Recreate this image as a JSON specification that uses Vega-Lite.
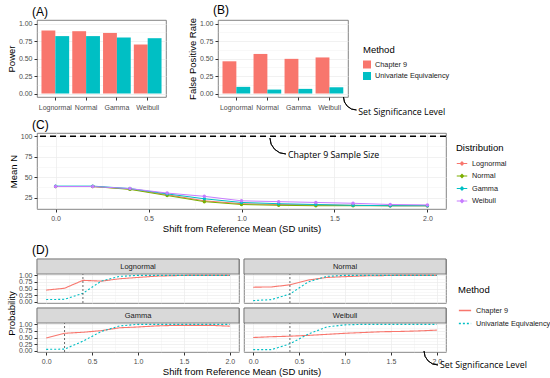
{
  "$schema": "https://vega.github.io/schema/vega-lite/v6.json",
  "padding": {"left": 5, "top": 3, "right": 2, "bottom": 2},
  "background": "white",
  "config": {
    "font": "Liberation Sans",
    "view": {"stroke": "#666666", "strokeWidth": 0.8},
    "axis": {"labelFontSize": 7, "labelColor": "#4D4D4D", "titleFontSize": 9.5, "titleFontWeight": "normal", "titleColor": "#000000", "tickColor": "#333333", "tickSize": 3, "domain": false, "gridColor": "#EBEBEB", "gridWidth": 0.7, "labelPadding": 2, "titlePadding": 2, "labelFlush": false, "labelOverlap": false, "labelBound": false},
    "legend": {"titleFontSize": 9.5, "titleFontWeight": "normal", "titleColor": "#000000", "labelFontSize": 7.3, "labelColor": "#1A1A1A", "orient": "none", "labelOffset": 4},
    "title": {"fontSize": 12, "fontWeight": "normal", "anchor": "start", "frame": "group", "offset": 1, "dx": -5, "color": "#000000"}
  },
  "datasets": {
    "bars": [
      {"Distribution": "Lognormal", "Method": "Chapter 9", "Power": 0.90, "FalsePositiveRate": 0.46},
      {"Distribution": "Lognormal", "Method": "Univariate Equivalency", "Power": 0.82, "FalsePositiveRate": 0.095},
      {"Distribution": "Normal", "Method": "Chapter 9", "Power": 0.89, "FalsePositiveRate": 0.565},
      {"Distribution": "Normal", "Method": "Univariate Equivalency", "Power": 0.82, "FalsePositiveRate": 0.056},
      {"Distribution": "Gamma", "Method": "Chapter 9", "Power": 0.865, "FalsePositiveRate": 0.495},
      {"Distribution": "Gamma", "Method": "Univariate Equivalency", "Power": 0.80, "FalsePositiveRate": 0.066},
      {"Distribution": "Weibull", "Method": "Chapter 9", "Power": 0.70, "FalsePositiveRate": 0.515},
      {"Distribution": "Weibull", "Method": "Univariate Equivalency", "Power": 0.79, "FalsePositiveRate": 0.089}
    ],
    "ref": [{"Reference": "Chapter 9 Sample Size", "MeanN": 100}],
    "note": [{"Note": "Set Significance Level"}],
    "meanN": [
      {"Distribution": "Lognormal", "Shift": 0, "MeanN": 38.5},
      {"Distribution": "Lognormal", "Shift": 0.2, "MeanN": 38.5},
      {"Distribution": "Lognormal", "Shift": 0.4, "MeanN": 35.5},
      {"Distribution": "Lognormal", "Shift": 0.6, "MeanN": 28.5},
      {"Distribution": "Lognormal", "Shift": 0.8, "MeanN": 21},
      {"Distribution": "Lognormal", "Shift": 1.0, "MeanN": 17.5},
      {"Distribution": "Lognormal", "Shift": 1.2, "MeanN": 16.5},
      {"Distribution": "Lognormal", "Shift": 1.4, "MeanN": 16},
      {"Distribution": "Lognormal", "Shift": 1.6, "MeanN": 15.5},
      {"Distribution": "Lognormal", "Shift": 1.8, "MeanN": 15},
      {"Distribution": "Lognormal", "Shift": 2.0, "MeanN": 15},
      {"Distribution": "Normal", "Shift": 0, "MeanN": 38.5},
      {"Distribution": "Normal", "Shift": 0.2, "MeanN": 38.5},
      {"Distribution": "Normal", "Shift": 0.4, "MeanN": 35},
      {"Distribution": "Normal", "Shift": 0.6, "MeanN": 27.5},
      {"Distribution": "Normal", "Shift": 0.8, "MeanN": 20},
      {"Distribution": "Normal", "Shift": 1.0, "MeanN": 16.5},
      {"Distribution": "Normal", "Shift": 1.2, "MeanN": 15.5},
      {"Distribution": "Normal", "Shift": 1.4, "MeanN": 15},
      {"Distribution": "Normal", "Shift": 1.6, "MeanN": 15},
      {"Distribution": "Normal", "Shift": 1.8, "MeanN": 15},
      {"Distribution": "Normal", "Shift": 2.0, "MeanN": 15},
      {"Distribution": "Gamma", "Shift": 0, "MeanN": 39},
      {"Distribution": "Gamma", "Shift": 0.2, "MeanN": 39},
      {"Distribution": "Gamma", "Shift": 0.4, "MeanN": 36},
      {"Distribution": "Gamma", "Shift": 0.6, "MeanN": 29.5},
      {"Distribution": "Gamma", "Shift": 0.8, "MeanN": 23.5},
      {"Distribution": "Gamma", "Shift": 1.0, "MeanN": 19},
      {"Distribution": "Gamma", "Shift": 1.2, "MeanN": 17.5},
      {"Distribution": "Gamma", "Shift": 1.4, "MeanN": 16.5},
      {"Distribution": "Gamma", "Shift": 1.6, "MeanN": 15.5},
      {"Distribution": "Gamma", "Shift": 1.8, "MeanN": 15},
      {"Distribution": "Gamma", "Shift": 2.0, "MeanN": 15},
      {"Distribution": "Weibull", "Shift": 0, "MeanN": 38.5},
      {"Distribution": "Weibull", "Shift": 0.2, "MeanN": 38.5},
      {"Distribution": "Weibull", "Shift": 0.4, "MeanN": 36},
      {"Distribution": "Weibull", "Shift": 0.6, "MeanN": 30.5},
      {"Distribution": "Weibull", "Shift": 0.8, "MeanN": 26.5},
      {"Distribution": "Weibull", "Shift": 1.0, "MeanN": 21},
      {"Distribution": "Weibull", "Shift": 1.2, "MeanN": 20},
      {"Distribution": "Weibull", "Shift": 1.4, "MeanN": 19},
      {"Distribution": "Weibull", "Shift": 1.6, "MeanN": 18},
      {"Distribution": "Weibull", "Shift": 1.8, "MeanN": 16.5},
      {"Distribution": "Weibull", "Shift": 2.0, "MeanN": 16}
    ],
    "sig": [
      {"Distribution": "Lognormal", "SigShift": 0.4},
      {"Distribution": "Normal", "SigShift": 0.4},
      {"Distribution": "Gamma", "SigShift": 0.2},
      {"Distribution": "Weibull", "SigShift": 0.4}
    ],
    "prob": [
      {"Distribution": "Lognormal", "Method": "Chapter 9", "Shift": 0, "Probability": 0.44},
      {"Distribution": "Lognormal", "Method": "Chapter 9", "Shift": 0.2, "Probability": 0.51},
      {"Distribution": "Lognormal", "Method": "Chapter 9", "Shift": 0.4, "Probability": 0.81},
      {"Distribution": "Lognormal", "Method": "Chapter 9", "Shift": 0.6, "Probability": 0.78},
      {"Distribution": "Lognormal", "Method": "Chapter 9", "Shift": 0.8, "Probability": 0.87},
      {"Distribution": "Lognormal", "Method": "Chapter 9", "Shift": 1.0, "Probability": 0.92},
      {"Distribution": "Lognormal", "Method": "Chapter 9", "Shift": 1.2, "Probability": 0.97},
      {"Distribution": "Lognormal", "Method": "Chapter 9", "Shift": 1.4, "Probability": 0.99},
      {"Distribution": "Lognormal", "Method": "Chapter 9", "Shift": 1.6, "Probability": 1.0},
      {"Distribution": "Lognormal", "Method": "Chapter 9", "Shift": 1.8, "Probability": 1.0},
      {"Distribution": "Lognormal", "Method": "Chapter 9", "Shift": 2.0, "Probability": 1.0},
      {"Distribution": "Lognormal", "Method": "Univariate Equivalency", "Shift": 0, "Probability": 0.08},
      {"Distribution": "Lognormal", "Method": "Univariate Equivalency", "Shift": 0.2, "Probability": 0.09},
      {"Distribution": "Lognormal", "Method": "Univariate Equivalency", "Shift": 0.4, "Probability": 0.32},
      {"Distribution": "Lognormal", "Method": "Univariate Equivalency", "Shift": 0.6, "Probability": 0.78},
      {"Distribution": "Lognormal", "Method": "Univariate Equivalency", "Shift": 0.8, "Probability": 0.96},
      {"Distribution": "Lognormal", "Method": "Univariate Equivalency", "Shift": 1.0, "Probability": 1.0},
      {"Distribution": "Lognormal", "Method": "Univariate Equivalency", "Shift": 1.2, "Probability": 1.0},
      {"Distribution": "Lognormal", "Method": "Univariate Equivalency", "Shift": 1.4, "Probability": 1.0},
      {"Distribution": "Lognormal", "Method": "Univariate Equivalency", "Shift": 1.6, "Probability": 1.0},
      {"Distribution": "Lognormal", "Method": "Univariate Equivalency", "Shift": 1.8, "Probability": 1.0},
      {"Distribution": "Lognormal", "Method": "Univariate Equivalency", "Shift": 2.0, "Probability": 1.0},
      {"Distribution": "Normal", "Method": "Chapter 9", "Shift": 0, "Probability": 0.55},
      {"Distribution": "Normal", "Method": "Chapter 9", "Shift": 0.2, "Probability": 0.56},
      {"Distribution": "Normal", "Method": "Chapter 9", "Shift": 0.4, "Probability": 0.64},
      {"Distribution": "Normal", "Method": "Chapter 9", "Shift": 0.6, "Probability": 0.82},
      {"Distribution": "Normal", "Method": "Chapter 9", "Shift": 0.8, "Probability": 0.92},
      {"Distribution": "Normal", "Method": "Chapter 9", "Shift": 1.0, "Probability": 0.95},
      {"Distribution": "Normal", "Method": "Chapter 9", "Shift": 1.2, "Probability": 0.98},
      {"Distribution": "Normal", "Method": "Chapter 9", "Shift": 1.4, "Probability": 0.99},
      {"Distribution": "Normal", "Method": "Chapter 9", "Shift": 1.6, "Probability": 1.0},
      {"Distribution": "Normal", "Method": "Chapter 9", "Shift": 1.8, "Probability": 1.0},
      {"Distribution": "Normal", "Method": "Chapter 9", "Shift": 2.0, "Probability": 1.0},
      {"Distribution": "Normal", "Method": "Univariate Equivalency", "Shift": 0, "Probability": 0.04},
      {"Distribution": "Normal", "Method": "Univariate Equivalency", "Shift": 0.2, "Probability": 0.08},
      {"Distribution": "Normal", "Method": "Univariate Equivalency", "Shift": 0.4, "Probability": 0.29},
      {"Distribution": "Normal", "Method": "Univariate Equivalency", "Shift": 0.6, "Probability": 0.75},
      {"Distribution": "Normal", "Method": "Univariate Equivalency", "Shift": 0.8, "Probability": 0.96},
      {"Distribution": "Normal", "Method": "Univariate Equivalency", "Shift": 1.0, "Probability": 1.0},
      {"Distribution": "Normal", "Method": "Univariate Equivalency", "Shift": 1.2, "Probability": 1.0},
      {"Distribution": "Normal", "Method": "Univariate Equivalency", "Shift": 1.4, "Probability": 1.0},
      {"Distribution": "Normal", "Method": "Univariate Equivalency", "Shift": 1.6, "Probability": 1.0},
      {"Distribution": "Normal", "Method": "Univariate Equivalency", "Shift": 1.8, "Probability": 1.0},
      {"Distribution": "Normal", "Method": "Univariate Equivalency", "Shift": 2.0, "Probability": 1.0},
      {"Distribution": "Gamma", "Method": "Chapter 9", "Shift": 0, "Probability": 0.48},
      {"Distribution": "Gamma", "Method": "Chapter 9", "Shift": 0.2, "Probability": 0.66},
      {"Distribution": "Gamma", "Method": "Chapter 9", "Shift": 0.4, "Probability": 0.70},
      {"Distribution": "Gamma", "Method": "Chapter 9", "Shift": 0.6, "Probability": 0.76},
      {"Distribution": "Gamma", "Method": "Chapter 9", "Shift": 0.8, "Probability": 0.87},
      {"Distribution": "Gamma", "Method": "Chapter 9", "Shift": 1.0, "Probability": 0.90},
      {"Distribution": "Gamma", "Method": "Chapter 9", "Shift": 1.2, "Probability": 0.94},
      {"Distribution": "Gamma", "Method": "Chapter 9", "Shift": 1.4, "Probability": 0.96},
      {"Distribution": "Gamma", "Method": "Chapter 9", "Shift": 1.6, "Probability": 0.96},
      {"Distribution": "Gamma", "Method": "Chapter 9", "Shift": 1.8, "Probability": 0.96},
      {"Distribution": "Gamma", "Method": "Chapter 9", "Shift": 2.0, "Probability": 0.93},
      {"Distribution": "Gamma", "Method": "Univariate Equivalency", "Shift": 0, "Probability": 0.05},
      {"Distribution": "Gamma", "Method": "Univariate Equivalency", "Shift": 0.2, "Probability": 0.06},
      {"Distribution": "Gamma", "Method": "Univariate Equivalency", "Shift": 0.4, "Probability": 0.36},
      {"Distribution": "Gamma", "Method": "Univariate Equivalency", "Shift": 0.6, "Probability": 0.73},
      {"Distribution": "Gamma", "Method": "Univariate Equivalency", "Shift": 0.8, "Probability": 0.94},
      {"Distribution": "Gamma", "Method": "Univariate Equivalency", "Shift": 1.0, "Probability": 1.0},
      {"Distribution": "Gamma", "Method": "Univariate Equivalency", "Shift": 1.2, "Probability": 1.0},
      {"Distribution": "Gamma", "Method": "Univariate Equivalency", "Shift": 1.4, "Probability": 1.0},
      {"Distribution": "Gamma", "Method": "Univariate Equivalency", "Shift": 1.6, "Probability": 1.0},
      {"Distribution": "Gamma", "Method": "Univariate Equivalency", "Shift": 1.8, "Probability": 1.0},
      {"Distribution": "Gamma", "Method": "Univariate Equivalency", "Shift": 2.0, "Probability": 1.0},
      {"Distribution": "Weibull", "Method": "Chapter 9", "Shift": 0, "Probability": 0.50},
      {"Distribution": "Weibull", "Method": "Chapter 9", "Shift": 0.2, "Probability": 0.53},
      {"Distribution": "Weibull", "Method": "Chapter 9", "Shift": 0.4, "Probability": 0.55},
      {"Distribution": "Weibull", "Method": "Chapter 9", "Shift": 0.6, "Probability": 0.58},
      {"Distribution": "Weibull", "Method": "Chapter 9", "Shift": 0.8, "Probability": 0.62},
      {"Distribution": "Weibull", "Method": "Chapter 9", "Shift": 1.0, "Probability": 0.66},
      {"Distribution": "Weibull", "Method": "Chapter 9", "Shift": 1.2, "Probability": 0.69},
      {"Distribution": "Weibull", "Method": "Chapter 9", "Shift": 1.4, "Probability": 0.72},
      {"Distribution": "Weibull", "Method": "Chapter 9", "Shift": 1.6, "Probability": 0.73},
      {"Distribution": "Weibull", "Method": "Chapter 9", "Shift": 1.8, "Probability": 0.75},
      {"Distribution": "Weibull", "Method": "Chapter 9", "Shift": 2.0, "Probability": 0.78},
      {"Distribution": "Weibull", "Method": "Univariate Equivalency", "Shift": 0, "Probability": 0.04},
      {"Distribution": "Weibull", "Method": "Univariate Equivalency", "Shift": 0.2, "Probability": 0.04},
      {"Distribution": "Weibull", "Method": "Univariate Equivalency", "Shift": 0.4, "Probability": 0.26},
      {"Distribution": "Weibull", "Method": "Univariate Equivalency", "Shift": 0.6, "Probability": 0.63},
      {"Distribution": "Weibull", "Method": "Univariate Equivalency", "Shift": 0.8, "Probability": 0.90},
      {"Distribution": "Weibull", "Method": "Univariate Equivalency", "Shift": 1.0, "Probability": 0.98},
      {"Distribution": "Weibull", "Method": "Univariate Equivalency", "Shift": 1.2, "Probability": 1.0},
      {"Distribution": "Weibull", "Method": "Univariate Equivalency", "Shift": 1.4, "Probability": 1.0},
      {"Distribution": "Weibull", "Method": "Univariate Equivalency", "Shift": 1.6, "Probability": 1.0},
      {"Distribution": "Weibull", "Method": "Univariate Equivalency", "Shift": 1.8, "Probability": 1.0},
      {"Distribution": "Weibull", "Method": "Univariate Equivalency", "Shift": 2.0, "Probability": 1.0}
    ]
  },
  "spacing": 11,
  "resolve": {"scale": {"color": "independent", "strokeDash": "independent"}},
  "vconcat": [
    {
      "spacing": 0,
      "resolve": {"scale": {"color": "independent"}},
      "vconcat": [
        {
          "spacing": 19,
          "resolve": {"scale": {"color": "independent", "y": "independent", "x": "independent"}},
          "hconcat": [
            {
              "title": "(A)",
              "width": 129,
              "height": 77,
              "data": {"name": "bars"},
              "mark": {"type": "bar"},
              "encoding": {
                "x": {"field": "Distribution", "type": "nominal", "scale": {"domain": ["Lognormal", "Normal", "Gamma", "Weibull"], "paddingInner": 0.1, "paddingOuter": 0.145}, "axis": {"title": null, "labelAngle": 0, "bandPosition": 0.5, "labelPadding": 3}},
                "xOffset": {"field": "Method", "type": "nominal", "scale": {"domain": ["Chapter 9", "Univariate Equivalency"]}},
                "y": {"field": "Power", "type": "quantitative", "scale": {"domain": [-0.05, 1.05], "nice": false, "zero": false},
                  "axis": {"title": "Power", "values": [0, 0.125, 0.25, 0.375, 0.5, 0.625, 0.75, 0.875, 1], "format": ".2f",
                    "labelExpr": "datum.value % 0.25 === 0 ? datum.label : ''",
                    "tickColor": {"condition": {"test": "datum.value % 0.25 === 0", "value": "#333333"}, "value": "transparent"},
                    "gridWidth": {"condition": {"test": "datum.value % 0.25 === 0", "value": 0.7}, "value": 0.35}}},
                "y2": {"datum": 0},
                "color": {"field": "Method", "type": "nominal", "scale": {"domain": ["Chapter 9", "Univariate Equivalency"], "range": ["#F8766D", "#00BFC4"]}, "legend": null}
              }
            },
            {
              "title": "(B)",
              "width": 130,
              "height": 77,
              "layer": [
                {
                  "data": {"name": "bars"},
                  "mark": {"type": "bar"},
                  "encoding": {
                    "x": {"field": "Distribution", "type": "nominal", "scale": {"domain": ["Lognormal", "Normal", "Gamma", "Weibull"], "paddingInner": 0.1, "paddingOuter": 0.145}, "axis": {"title": null, "labelAngle": 0, "bandPosition": 0.5, "labelPadding": 3}},
                    "xOffset": {"field": "Method", "type": "nominal", "scale": {"domain": ["Chapter 9", "Univariate Equivalency"]}},
                    "y": {"field": "FalsePositiveRate", "type": "quantitative", "scale": {"domain": [-0.05, 1.05], "nice": false, "zero": false},
                      "axis": {"title": "False Positive Rate", "values": [0, 0.125, 0.25, 0.375, 0.5, 0.625, 0.75, 0.875, 1], "format": ".2f",
                        "labelExpr": "datum.value % 0.25 === 0 ? datum.label : ''",
                        "tickColor": {"condition": {"test": "datum.value % 0.25 === 0", "value": "#333333"}, "value": "transparent"},
                        "gridWidth": {"condition": {"test": "datum.value % 0.25 === 0", "value": 0.7}, "value": 0.35}}},
                    "y2": {"datum": 0},
                    "color": {"field": "Method", "type": "nominal", "scale": {"domain": ["Chapter 9", "Univariate Equivalency"], "range": ["#F8766D", "#00BFC4"]},
                      "legend": {"title": "Method", "legendX": 145, "legendY": 25, "symbolType": "square", "symbolSize": 64, "rowPadding": 3.5, "titlePadding": 6, "symbolStrokeWidth": 0}}
                  }
                },
                {
                  "data": {"name": "note"},
                  "mark": {"type": "arc", "filled": false, "color": "#000000", "strokeWidth": 0.9, "radius": 13, "radius2": 13, "theta": 3.1416, "theta2": 4.7124},
                  "encoding": {
                    "x": {"datum": "Weibull", "bandPosition": 1.465, "scale": {"domain": ["Lognormal", "Normal", "Gamma", "Weibull"], "paddingInner": 0.1, "paddingOuter": 0.145}, "axis": {"title": null, "labelAngle": 0, "bandPosition": 0.5, "labelPadding": 3}},
                    "y": {"datum": -0.05, "type": "quantitative", "scale": {"domain": [-0.05, 1.05], "nice": false, "zero": false},
                      "axis": {"title": "False Positive Rate", "values": [0, 0.125, 0.25, 0.375, 0.5, 0.625, 0.75, 0.875, 1], "format": ".2f",
                        "labelExpr": "datum.value % 0.25 === 0 ? datum.label : ''",
                        "tickColor": {"condition": {"test": "datum.value % 0.25 === 0", "value": "#333333"}, "value": "transparent"},
                        "gridWidth": {"condition": {"test": "datum.value % 0.25 === 0", "value": 0.7}, "value": 0.35}}}
                  }
                },
                {
                  "data": {"name": "note"},
                  "mark": {"type": "text", "align": "left", "baseline": "middle", "font": "Open Sans", "fontSize": 8.8, "color": "#000000"},
                  "encoding": {
                    "x": {"datum": "Weibull", "bandPosition": 1.53, "scale": {"domain": ["Lognormal", "Normal", "Gamma", "Weibull"], "paddingInner": 0.1, "paddingOuter": 0.145}, "axis": {"title": null, "labelAngle": 0, "bandPosition": 0.5, "labelPadding": 3}},
                    "y": {"datum": -0.27, "type": "quantitative", "scale": {"domain": [-0.05, 1.05], "nice": false, "zero": false},
                      "axis": {"title": "False Positive Rate", "values": [0, 0.125, 0.25, 0.375, 0.5, 0.625, 0.75, 0.875, 1], "format": ".2f",
                        "labelExpr": "datum.value % 0.25 === 0 ? datum.label : ''",
                        "tickColor": {"condition": {"test": "datum.value % 0.25 === 0", "value": "#333333"}, "value": "transparent"},
                        "gridWidth": {"condition": {"test": "datum.value % 0.25 === 0", "value": 0.7}, "value": 0.35}}},
                    "text": {"field": "Note"}
                  }
                }
              ]
            }
          ]
        },
        {
          "title": {"text": "(C)", "offset": 0},
          "width": 409,
          "height": 76,
          "layer": [
            {
              "data": {"name": "meanN"},
              "mark": {"type": "line", "strokeWidth": 1, "point": {"filled": true, "size": 12}},
              "encoding": {
                "x": {"field": "Shift", "type": "quantitative", "scale": {"domain": [-0.1, 2.1], "nice": false},
                  "axis": {"title": "Shift from Reference Mean (SD units)", "values": [0, 0.25, 0.5, 0.75, 1, 1.25, 1.5, 1.75, 2], "format": ".1f",
                    "labelExpr": "datum.value % 0.5 === 0 ? datum.label : ''",
                    "tickColor": {"condition": {"test": "datum.value % 0.5 === 0", "value": "#333333"}, "value": "transparent"},
                    "gridWidth": {"condition": {"test": "datum.value % 0.5 === 0", "value": 0.7}, "value": 0.35}}},
                "y": {"field": "MeanN", "type": "quantitative", "scale": {"domain": [11, 104], "nice": false, "zero": false},
                  "axis": {"title": "Mean N", "values": [12.5, 25, 37.5, 50, 62.5, 75, 87.5, 100], "format": ".0f",
                    "labelExpr": "datum.value % 25 === 0 ? datum.label : ''",
                    "tickColor": {"condition": {"test": "datum.value % 25 === 0", "value": "#333333"}, "value": "transparent"},
                    "gridWidth": {"condition": {"test": "datum.value % 25 === 0", "value": 0.7}, "value": 0.35}}},
                "color": {"field": "Distribution", "type": "nominal", "scale": {"domain": ["Lognormal", "Normal", "Gamma", "Weibull"], "range": ["#F8766D", "#7CAE00", "#00BFC4", "#C77CFF"]},
                  "legend": {"title": "Distribution", "legendX": 419, "legendY": 10, "rowPadding": 2.5, "titlePadding": 5, "symbolType": "M-1,0L1,0M0,-0.3L0.3,0L0,0.3L-0.3,0Z", "symbolSize": 110, "symbolStrokeWidth": 1.2}}
              }
            },
            {
              "data": {"name": "ref"},
              "mark": {"type": "rule", "strokeDash": [6, 4], "strokeWidth": 1.5, "color": "#000000"},
              "encoding": {
                "y": {"field": "MeanN", "type": "quantitative", "scale": {"domain": [11, 104], "nice": false, "zero": false},
                  "axis": {"title": "Mean N", "values": [12.5, 25, 37.5, 50, 62.5, 75, 87.5, 100], "format": ".0f",
                    "labelExpr": "datum.value % 25 === 0 ? datum.label : ''",
                    "tickColor": {"condition": {"test": "datum.value % 25 === 0", "value": "#333333"}, "value": "transparent"},
                    "gridWidth": {"condition": {"test": "datum.value % 25 === 0", "value": 0.7}, "value": 0.35}}}
              }
            },
            {
              "data": {"name": "ref"},
              "mark": {"type": "arc", "filled": false, "color": "#000000", "strokeWidth": 0.9, "radius": 16, "radius2": 16, "theta": 3.1416, "theta2": 4.7124},
              "encoding": {
                "x": {"datum": 1.239, "type": "quantitative", "scale": {"domain": [-0.1, 2.1], "nice": false},
                  "axis": {"title": "Shift from Reference Mean (SD units)", "values": [0, 0.25, 0.5, 0.75, 1, 1.25, 1.5, 1.75, 2], "format": ".1f",
                    "labelExpr": "datum.value % 0.5 === 0 ? datum.label : ''",
                    "tickColor": {"condition": {"test": "datum.value % 0.5 === 0", "value": "#333333"}, "value": "transparent"},
                    "gridWidth": {"condition": {"test": "datum.value % 0.5 === 0", "value": 0.7}, "value": 0.35}}},
                "y": {"datum": 97.9, "type": "quantitative", "scale": {"domain": [11, 104], "nice": false, "zero": false},
                  "axis": {"title": "Mean N", "values": [12.5, 25, 37.5, 50, 62.5, 75, 87.5, 100], "format": ".0f",
                    "labelExpr": "datum.value % 25 === 0 ? datum.label : ''",
                    "tickColor": {"condition": {"test": "datum.value % 25 === 0", "value": "#333333"}, "value": "transparent"},
                    "gridWidth": {"condition": {"test": "datum.value % 25 === 0", "value": 0.7}, "value": 0.35}}}
              }
            },
            {
              "data": {"name": "ref"},
              "mark": {"type": "text", "align": "left", "baseline": "middle", "font": "Open Sans", "fontSize": 8.8, "color": "#000000"},
              "encoding": {
                "x": {"datum": 1.25, "type": "quantitative", "scale": {"domain": [-0.1, 2.1], "nice": false},
                  "axis": {"title": "Shift from Reference Mean (SD units)", "values": [0, 0.25, 0.5, 0.75, 1, 1.25, 1.5, 1.75, 2], "format": ".1f",
                    "labelExpr": "datum.value % 0.5 === 0 ? datum.label : ''",
                    "tickColor": {"condition": {"test": "datum.value % 0.5 === 0", "value": "#333333"}, "value": "transparent"},
                    "gridWidth": {"condition": {"test": "datum.value % 0.5 === 0", "value": 0.7}, "value": 0.35}}},
                "y": {"datum": 77, "type": "quantitative", "scale": {"domain": [11, 104], "nice": false, "zero": false},
                  "axis": {"title": "Mean N", "values": [12.5, 25, 37.5, 50, 62.5, 75, 87.5, 100], "format": ".0f",
                    "labelExpr": "datum.value % 25 === 0 ? datum.label : ''",
                    "tickColor": {"condition": {"test": "datum.value % 25 === 0", "value": "#333333"}, "value": "transparent"},
                    "gridWidth": {"condition": {"test": "datum.value % 25 === 0", "value": 0.7}, "value": 0.35}}},
                "text": {"field": "Reference"}
              }
            }
          ]
        }
      ]
    },
    {
      "title": "(D)",
      "columns": 2,
      "spacing": {"row": 5, "column": 5},
      "bounds": "flush",
      "concat": [
        {
          "width": 202, "height": 44,
          "layer": [
            {
              "data": {"name": "prob"},
              "transform": [{"filter": {"field": "Distribution", "equal": "Lognormal"}}],
              "mark": {"type": "line", "strokeWidth": 1.1},
              "encoding": {
                "x": {"field": "Shift", "type": "quantitative", "scale": {"domain": [-0.1, 2.1], "nice": false},
                  "axis": {"title": null, "labels": false, "ticks": false, "values": [0, 0.25, 0.5, 0.75, 1, 1.25, 1.5, 1.75, 2], "gridWidth": {"condition": {"test": "datum.value % 0.5 === 0", "value": 0.7}, "value": 0.35}}},
                "y": {"field": "Probability", "type": "quantitative", "scale": {"domain": [-0.05, 1.62], "nice": false, "zero": false},
                  "axis": {"title": "Probability", "titleY": 54, "values": [0, 0.125, 0.25, 0.375, 0.5, 0.625, 0.75, 0.875, 1], "format": ".2f", "labelExpr": "datum.value % 0.25 === 0 ? datum.label : ''", "tickColor": {"condition": {"test": "datum.value % 0.25 === 0", "value": "#333333"}, "value": "transparent"}, "gridWidth": {"condition": {"test": "datum.value % 0.25 === 0", "value": 0.7}, "value": 0.35}}},
                "color": {"field": "Method", "type": "nominal", "scale": {"domain": ["Chapter 9", "Univariate Equivalency"], "range": ["#F8766D", "#00BFC4"]},
                  "legend": {"title": "Method", "legendX": 421, "legendY": 26, "symbolType": "stroke", "symbolStrokeWidth": 1.3, "symbolSize": 150, "rowPadding": 2, "titlePadding": 9}},
                "strokeDash": {"field": "Method", "type": "nominal", "scale": {"domain": ["Chapter 9", "Univariate Equivalency"], "range": [[1, 0], [2, 2]]},
                  "legend": {"title": "Method", "legendX": 421, "legendY": 26, "symbolType": "stroke", "symbolStrokeWidth": 1.3, "symbolSize": 150, "rowPadding": 2, "titlePadding": 9}}
              }
            },
            {
              "data": {"name": "sig"},
              "transform": [{"filter": {"field": "Distribution", "equal": "Lognormal"}}],
              "mark": {"type": "rule", "strokeDash": [2, 2], "color": "#444444", "strokeWidth": 0.8},
              "encoding": {
                "x": {"field": "SigShift", "type": "quantitative", "scale": {"domain": [-0.1, 2.1], "nice": false},
                  "axis": {"title": null, "labels": false, "ticks": false, "values": [0, 0.25, 0.5, 0.75, 1, 1.25, 1.5, 1.75, 2], "gridWidth": {"condition": {"test": "datum.value % 0.5 === 0", "value": 0.7}, "value": 0.35}}},
                "y": {"datum": -0.05, "type": "quantitative", "scale": {"domain": [-0.05, 1.62], "nice": false, "zero": false},
                  "axis": {"title": "Probability", "titleY": 54, "values": [0, 0.125, 0.25, 0.375, 0.5, 0.625, 0.75, 0.875, 1], "format": ".2f", "labelExpr": "datum.value % 0.25 === 0 ? datum.label : ''", "tickColor": {"condition": {"test": "datum.value % 0.25 === 0", "value": "#333333"}, "value": "transparent"}, "gridWidth": {"condition": {"test": "datum.value % 0.25 === 0", "value": 0.7}, "value": 0.35}}},
                "y2": {"datum": 1.05}
              }
            },
            {
              "data": {"name": "sig"},
              "transform": [{"filter": {"field": "Distribution", "equal": "Lognormal"}}],
              "mark": {"type": "rect", "fill": "#D9D9D9", "stroke": "#666666", "strokeWidth": 0.8},
              "encoding": {
                "x": {"datum": -0.1, "type": "quantitative", "scale": {"domain": [-0.1, 2.1], "nice": false},
                  "axis": {"title": null, "labels": false, "ticks": false, "values": [0, 0.25, 0.5, 0.75, 1, 1.25, 1.5, 1.75, 2], "gridWidth": {"condition": {"test": "datum.value % 0.5 === 0", "value": 0.7}, "value": 0.35}}},
                "x2": {"datum": 2.1},
                "y": {"datum": 1.05, "type": "quantitative", "scale": {"domain": [-0.05, 1.62], "nice": false, "zero": false},
                  "axis": {"title": "Probability", "titleY": 54, "values": [0, 0.125, 0.25, 0.375, 0.5, 0.625, 0.75, 0.875, 1], "format": ".2f", "labelExpr": "datum.value % 0.25 === 0 ? datum.label : ''", "tickColor": {"condition": {"test": "datum.value % 0.25 === 0", "value": "#333333"}, "value": "transparent"}, "gridWidth": {"condition": {"test": "datum.value % 0.25 === 0", "value": 0.7}, "value": 0.35}}},
                "y2": {"datum": 1.62}
              }
            },
            {
              "data": {"name": "sig"},
              "transform": [{"filter": {"field": "Distribution", "equal": "Lognormal"}}],
              "mark": {"type": "text", "fontSize": 7.5, "color": "#1A1A1A", "baseline": "middle"},
              "encoding": {
                "x": {"datum": 1.0, "type": "quantitative", "scale": {"domain": [-0.1, 2.1], "nice": false},
                  "axis": {"title": null, "labels": false, "ticks": false, "values": [0, 0.25, 0.5, 0.75, 1, 1.25, 1.5, 1.75, 2], "gridWidth": {"condition": {"test": "datum.value % 0.5 === 0", "value": 0.7}, "value": 0.35}}},
                "y": {"datum": 1.335, "type": "quantitative", "scale": {"domain": [-0.05, 1.62], "nice": false, "zero": false},
                  "axis": {"title": "Probability", "titleY": 54, "values": [0, 0.125, 0.25, 0.375, 0.5, 0.625, 0.75, 0.875, 1], "format": ".2f", "labelExpr": "datum.value % 0.25 === 0 ? datum.label : ''", "tickColor": {"condition": {"test": "datum.value % 0.25 === 0", "value": "#333333"}, "value": "transparent"}, "gridWidth": {"condition": {"test": "datum.value % 0.25 === 0", "value": 0.7}, "value": 0.35}}},
                "text": {"field": "Distribution"}
              }
            }
          ]
        },
        {
          "width": 202, "height": 44,
          "layer": [
            {
              "data": {"name": "prob"},
              "transform": [{"filter": {"field": "Distribution", "equal": "Normal"}}],
              "mark": {"type": "line", "strokeWidth": 1.1},
              "encoding": {
                "x": {"field": "Shift", "type": "quantitative", "scale": {"domain": [-0.1, 2.1], "nice": false},
                  "axis": {"title": null, "labels": false, "ticks": false, "values": [0, 0.25, 0.5, 0.75, 1, 1.25, 1.5, 1.75, 2], "gridWidth": {"condition": {"test": "datum.value % 0.5 === 0", "value": 0.7}, "value": 0.35}}},
                "y": {"field": "Probability", "type": "quantitative", "scale": {"domain": [-0.05, 1.62], "nice": false, "zero": false},
                  "axis": {"title": null, "labels": false, "ticks": false, "values": [0, 0.125, 0.25, 0.375, 0.5, 0.625, 0.75, 0.875, 1], "gridWidth": {"condition": {"test": "datum.value % 0.25 === 0", "value": 0.7}, "value": 0.35}}},
                "color": {"field": "Method", "type": "nominal", "scale": {"domain": ["Chapter 9", "Univariate Equivalency"], "range": ["#F8766D", "#00BFC4"]},
                  "legend": {"title": "Method", "legendX": 421, "legendY": 26, "symbolType": "stroke", "symbolStrokeWidth": 1.3, "symbolSize": 150, "rowPadding": 2, "titlePadding": 9}},
                "strokeDash": {"field": "Method", "type": "nominal", "scale": {"domain": ["Chapter 9", "Univariate Equivalency"], "range": [[1, 0], [2, 2]]},
                  "legend": {"title": "Method", "legendX": 421, "legendY": 26, "symbolType": "stroke", "symbolStrokeWidth": 1.3, "symbolSize": 150, "rowPadding": 2, "titlePadding": 9}}
              }
            },
            {
              "data": {"name": "sig"},
              "transform": [{"filter": {"field": "Distribution", "equal": "Normal"}}],
              "mark": {"type": "rule", "strokeDash": [2, 2], "color": "#444444", "strokeWidth": 0.8},
              "encoding": {
                "x": {"field": "SigShift", "type": "quantitative", "scale": {"domain": [-0.1, 2.1], "nice": false},
                  "axis": {"title": null, "labels": false, "ticks": false, "values": [0, 0.25, 0.5, 0.75, 1, 1.25, 1.5, 1.75, 2], "gridWidth": {"condition": {"test": "datum.value % 0.5 === 0", "value": 0.7}, "value": 0.35}}},
                "y": {"datum": -0.05, "type": "quantitative", "scale": {"domain": [-0.05, 1.62], "nice": false, "zero": false},
                  "axis": {"title": null, "labels": false, "ticks": false, "values": [0, 0.125, 0.25, 0.375, 0.5, 0.625, 0.75, 0.875, 1], "gridWidth": {"condition": {"test": "datum.value % 0.25 === 0", "value": 0.7}, "value": 0.35}}},
                "y2": {"datum": 1.05}
              }
            },
            {
              "data": {"name": "sig"},
              "transform": [{"filter": {"field": "Distribution", "equal": "Normal"}}],
              "mark": {"type": "rect", "fill": "#D9D9D9", "stroke": "#666666", "strokeWidth": 0.8},
              "encoding": {
                "x": {"datum": -0.1, "type": "quantitative", "scale": {"domain": [-0.1, 2.1], "nice": false},
                  "axis": {"title": null, "labels": false, "ticks": false, "values": [0, 0.25, 0.5, 0.75, 1, 1.25, 1.5, 1.75, 2], "gridWidth": {"condition": {"test": "datum.value % 0.5 === 0", "value": 0.7}, "value": 0.35}}},
                "x2": {"datum": 2.1},
                "y": {"datum": 1.05, "type": "quantitative", "scale": {"domain": [-0.05, 1.62], "nice": false, "zero": false},
                  "axis": {"title": null, "labels": false, "ticks": false, "values": [0, 0.125, 0.25, 0.375, 0.5, 0.625, 0.75, 0.875, 1], "gridWidth": {"condition": {"test": "datum.value % 0.25 === 0", "value": 0.7}, "value": 0.35}}},
                "y2": {"datum": 1.62}
              }
            },
            {
              "data": {"name": "sig"},
              "transform": [{"filter": {"field": "Distribution", "equal": "Normal"}}],
              "mark": {"type": "text", "fontSize": 7.5, "color": "#1A1A1A", "baseline": "middle"},
              "encoding": {
                "x": {"datum": 1.0, "type": "quantitative", "scale": {"domain": [-0.1, 2.1], "nice": false},
                  "axis": {"title": null, "labels": false, "ticks": false, "values": [0, 0.25, 0.5, 0.75, 1, 1.25, 1.5, 1.75, 2], "gridWidth": {"condition": {"test": "datum.value % 0.5 === 0", "value": 0.7}, "value": 0.35}}},
                "y": {"datum": 1.335, "type": "quantitative", "scale": {"domain": [-0.05, 1.62], "nice": false, "zero": false},
                  "axis": {"title": null, "labels": false, "ticks": false, "values": [0, 0.125, 0.25, 0.375, 0.5, 0.625, 0.75, 0.875, 1], "gridWidth": {"condition": {"test": "datum.value % 0.25 === 0", "value": 0.7}, "value": 0.35}}},
                "text": {"field": "Distribution"}
              }
            }
          ]
        },
        {
          "width": 202, "height": 44,
          "layer": [
            {
              "data": {"name": "prob"},
              "transform": [{"filter": {"field": "Distribution", "equal": "Gamma"}}],
              "mark": {"type": "line", "strokeWidth": 1.1},
              "encoding": {
                "x": {"field": "Shift", "type": "quantitative", "scale": {"domain": [-0.1, 2.1], "nice": false},
                  "axis": {"title": "Shift from Reference Mean (SD units)", "titleX": 204.5, "values": [0, 0.25, 0.5, 0.75, 1, 1.25, 1.5, 1.75, 2], "format": ".1f", "labelExpr": "datum.value % 0.5 === 0 ? datum.label : ''", "tickColor": {"condition": {"test": "datum.value % 0.5 === 0", "value": "#333333"}, "value": "transparent"}, "gridWidth": {"condition": {"test": "datum.value % 0.5 === 0", "value": 0.7}, "value": 0.35}}},
                "y": {"field": "Probability", "type": "quantitative", "scale": {"domain": [-0.05, 1.62], "nice": false, "zero": false},
                  "axis": {"title": null, "values": [0, 0.125, 0.25, 0.375, 0.5, 0.625, 0.75, 0.875, 1], "format": ".2f", "labelExpr": "datum.value % 0.25 === 0 ? datum.label : ''", "tickColor": {"condition": {"test": "datum.value % 0.25 === 0", "value": "#333333"}, "value": "transparent"}, "gridWidth": {"condition": {"test": "datum.value % 0.25 === 0", "value": 0.7}, "value": 0.35}}},
                "color": {"field": "Method", "type": "nominal", "scale": {"domain": ["Chapter 9", "Univariate Equivalency"], "range": ["#F8766D", "#00BFC4"]},
                  "legend": {"title": "Method", "legendX": 421, "legendY": 26, "symbolType": "stroke", "symbolStrokeWidth": 1.3, "symbolSize": 150, "rowPadding": 2, "titlePadding": 9}},
                "strokeDash": {"field": "Method", "type": "nominal", "scale": {"domain": ["Chapter 9", "Univariate Equivalency"], "range": [[1, 0], [2, 2]]},
                  "legend": {"title": "Method", "legendX": 421, "legendY": 26, "symbolType": "stroke", "symbolStrokeWidth": 1.3, "symbolSize": 150, "rowPadding": 2, "titlePadding": 9}}
              }
            },
            {
              "data": {"name": "sig"},
              "transform": [{"filter": {"field": "Distribution", "equal": "Gamma"}}],
              "mark": {"type": "rule", "strokeDash": [2, 2], "color": "#444444", "strokeWidth": 0.8},
              "encoding": {
                "x": {"field": "SigShift", "type": "quantitative", "scale": {"domain": [-0.1, 2.1], "nice": false},
                  "axis": {"title": "Shift from Reference Mean (SD units)", "titleX": 204.5, "values": [0, 0.25, 0.5, 0.75, 1, 1.25, 1.5, 1.75, 2], "format": ".1f", "labelExpr": "datum.value % 0.5 === 0 ? datum.label : ''", "tickColor": {"condition": {"test": "datum.value % 0.5 === 0", "value": "#333333"}, "value": "transparent"}, "gridWidth": {"condition": {"test": "datum.value % 0.5 === 0", "value": 0.7}, "value": 0.35}}},
                "y": {"datum": -0.05, "type": "quantitative", "scale": {"domain": [-0.05, 1.62], "nice": false, "zero": false},
                  "axis": {"title": null, "values": [0, 0.125, 0.25, 0.375, 0.5, 0.625, 0.75, 0.875, 1], "format": ".2f", "labelExpr": "datum.value % 0.25 === 0 ? datum.label : ''", "tickColor": {"condition": {"test": "datum.value % 0.25 === 0", "value": "#333333"}, "value": "transparent"}, "gridWidth": {"condition": {"test": "datum.value % 0.25 === 0", "value": 0.7}, "value": 0.35}}},
                "y2": {"datum": 1.05}
              }
            },
            {
              "data": {"name": "sig"},
              "transform": [{"filter": {"field": "Distribution", "equal": "Gamma"}}],
              "mark": {"type": "rect", "fill": "#D9D9D9", "stroke": "#666666", "strokeWidth": 0.8},
              "encoding": {
                "x": {"datum": -0.1, "type": "quantitative", "scale": {"domain": [-0.1, 2.1], "nice": false},
                  "axis": {"title": "Shift from Reference Mean (SD units)", "titleX": 204.5, "values": [0, 0.25, 0.5, 0.75, 1, 1.25, 1.5, 1.75, 2], "format": ".1f", "labelExpr": "datum.value % 0.5 === 0 ? datum.label : ''", "tickColor": {"condition": {"test": "datum.value % 0.5 === 0", "value": "#333333"}, "value": "transparent"}, "gridWidth": {"condition": {"test": "datum.value % 0.5 === 0", "value": 0.7}, "value": 0.35}}},
                "x2": {"datum": 2.1},
                "y": {"datum": 1.05, "type": "quantitative", "scale": {"domain": [-0.05, 1.62], "nice": false, "zero": false},
                  "axis": {"title": null, "values": [0, 0.125, 0.25, 0.375, 0.5, 0.625, 0.75, 0.875, 1], "format": ".2f", "labelExpr": "datum.value % 0.25 === 0 ? datum.label : ''", "tickColor": {"condition": {"test": "datum.value % 0.25 === 0", "value": "#333333"}, "value": "transparent"}, "gridWidth": {"condition": {"test": "datum.value % 0.25 === 0", "value": 0.7}, "value": 0.35}}},
                "y2": {"datum": 1.62}
              }
            },
            {
              "data": {"name": "sig"},
              "transform": [{"filter": {"field": "Distribution", "equal": "Gamma"}}],
              "mark": {"type": "text", "fontSize": 7.5, "color": "#1A1A1A", "baseline": "middle"},
              "encoding": {
                "x": {"datum": 1.0, "type": "quantitative", "scale": {"domain": [-0.1, 2.1], "nice": false},
                  "axis": {"title": "Shift from Reference Mean (SD units)", "titleX": 204.5, "values": [0, 0.25, 0.5, 0.75, 1, 1.25, 1.5, 1.75, 2], "format": ".1f", "labelExpr": "datum.value % 0.5 === 0 ? datum.label : ''", "tickColor": {"condition": {"test": "datum.value % 0.5 === 0", "value": "#333333"}, "value": "transparent"}, "gridWidth": {"condition": {"test": "datum.value % 0.5 === 0", "value": 0.7}, "value": 0.35}}},
                "y": {"datum": 1.335, "type": "quantitative", "scale": {"domain": [-0.05, 1.62], "nice": false, "zero": false},
                  "axis": {"title": null, "values": [0, 0.125, 0.25, 0.375, 0.5, 0.625, 0.75, 0.875, 1], "format": ".2f", "labelExpr": "datum.value % 0.25 === 0 ? datum.label : ''", "tickColor": {"condition": {"test": "datum.value % 0.25 === 0", "value": "#333333"}, "value": "transparent"}, "gridWidth": {"condition": {"test": "datum.value % 0.25 === 0", "value": 0.7}, "value": 0.35}}},
                "text": {"field": "Distribution"}
              }
            }
          ]
        },
        {
          "width": 202, "height": 44,
          "layer": [
            {
              "data": {"name": "prob"},
              "transform": [{"filter": {"field": "Distribution", "equal": "Weibull"}}],
              "mark": {"type": "line", "strokeWidth": 1.1},
              "encoding": {
                "x": {"field": "Shift", "type": "quantitative", "scale": {"domain": [-0.1, 2.1], "nice": false},
                  "axis": {"title": null, "values": [0, 0.25, 0.5, 0.75, 1, 1.25, 1.5, 1.75, 2], "format": ".1f", "labelExpr": "datum.value % 0.5 === 0 ? datum.label : ''", "tickColor": {"condition": {"test": "datum.value % 0.5 === 0", "value": "#333333"}, "value": "transparent"}, "gridWidth": {"condition": {"test": "datum.value % 0.5 === 0", "value": 0.7}, "value": 0.35}}},
                "y": {"field": "Probability", "type": "quantitative", "scale": {"domain": [-0.05, 1.62], "nice": false, "zero": false},
                  "axis": {"title": null, "labels": false, "ticks": false, "values": [0, 0.125, 0.25, 0.375, 0.5, 0.625, 0.75, 0.875, 1], "gridWidth": {"condition": {"test": "datum.value % 0.25 === 0", "value": 0.7}, "value": 0.35}}},
                "color": {"field": "Method", "type": "nominal", "scale": {"domain": ["Chapter 9", "Univariate Equivalency"], "range": ["#F8766D", "#00BFC4"]},
                  "legend": {"title": "Method", "legendX": 421, "legendY": 26, "symbolType": "stroke", "symbolStrokeWidth": 1.3, "symbolSize": 150, "rowPadding": 2, "titlePadding": 9}},
                "strokeDash": {"field": "Method", "type": "nominal", "scale": {"domain": ["Chapter 9", "Univariate Equivalency"], "range": [[1, 0], [2, 2]]},
                  "legend": {"title": "Method", "legendX": 421, "legendY": 26, "symbolType": "stroke", "symbolStrokeWidth": 1.3, "symbolSize": 150, "rowPadding": 2, "titlePadding": 9}}
              }
            },
            {
              "data": {"name": "sig"},
              "transform": [{"filter": {"field": "Distribution", "equal": "Weibull"}}],
              "mark": {"type": "rule", "strokeDash": [2, 2], "color": "#444444", "strokeWidth": 0.8},
              "encoding": {
                "x": {"field": "SigShift", "type": "quantitative", "scale": {"domain": [-0.1, 2.1], "nice": false},
                  "axis": {"title": null, "values": [0, 0.25, 0.5, 0.75, 1, 1.25, 1.5, 1.75, 2], "format": ".1f", "labelExpr": "datum.value % 0.5 === 0 ? datum.label : ''", "tickColor": {"condition": {"test": "datum.value % 0.5 === 0", "value": "#333333"}, "value": "transparent"}, "gridWidth": {"condition": {"test": "datum.value % 0.5 === 0", "value": 0.7}, "value": 0.35}}},
                "y": {"datum": -0.05, "type": "quantitative", "scale": {"domain": [-0.05, 1.62], "nice": false, "zero": false},
                  "axis": {"title": null, "labels": false, "ticks": false, "values": [0, 0.125, 0.25, 0.375, 0.5, 0.625, 0.75, 0.875, 1], "gridWidth": {"condition": {"test": "datum.value % 0.25 === 0", "value": 0.7}, "value": 0.35}}},
                "y2": {"datum": 1.05}
              }
            },
            {
              "data": {"name": "sig"},
              "transform": [{"filter": {"field": "Distribution", "equal": "Weibull"}}],
              "mark": {"type": "rect", "fill": "#D9D9D9", "stroke": "#666666", "strokeWidth": 0.8},
              "encoding": {
                "x": {"datum": -0.1, "type": "quantitative", "scale": {"domain": [-0.1, 2.1], "nice": false},
                  "axis": {"title": null, "values": [0, 0.25, 0.5, 0.75, 1, 1.25, 1.5, 1.75, 2], "format": ".1f", "labelExpr": "datum.value % 0.5 === 0 ? datum.label : ''", "tickColor": {"condition": {"test": "datum.value % 0.5 === 0", "value": "#333333"}, "value": "transparent"}, "gridWidth": {"condition": {"test": "datum.value % 0.5 === 0", "value": 0.7}, "value": 0.35}}},
                "x2": {"datum": 2.1},
                "y": {"datum": 1.05, "type": "quantitative", "scale": {"domain": [-0.05, 1.62], "nice": false, "zero": false},
                  "axis": {"title": null, "labels": false, "ticks": false, "values": [0, 0.125, 0.25, 0.375, 0.5, 0.625, 0.75, 0.875, 1], "gridWidth": {"condition": {"test": "datum.value % 0.25 === 0", "value": 0.7}, "value": 0.35}}},
                "y2": {"datum": 1.62}
              }
            },
            {
              "data": {"name": "sig"},
              "transform": [{"filter": {"field": "Distribution", "equal": "Weibull"}}],
              "mark": {"type": "text", "fontSize": 7.5, "color": "#1A1A1A", "baseline": "middle"},
              "encoding": {
                "x": {"datum": 1.0, "type": "quantitative", "scale": {"domain": [-0.1, 2.1], "nice": false},
                  "axis": {"title": null, "values": [0, 0.25, 0.5, 0.75, 1, 1.25, 1.5, 1.75, 2], "format": ".1f", "labelExpr": "datum.value % 0.5 === 0 ? datum.label : ''", "tickColor": {"condition": {"test": "datum.value % 0.5 === 0", "value": "#333333"}, "value": "transparent"}, "gridWidth": {"condition": {"test": "datum.value % 0.5 === 0", "value": 0.7}, "value": 0.35}}},
                "y": {"datum": 1.335, "type": "quantitative", "scale": {"domain": [-0.05, 1.62], "nice": false, "zero": false},
                  "axis": {"title": null, "labels": false, "ticks": false, "values": [0, 0.125, 0.25, 0.375, 0.5, 0.625, 0.75, 0.875, 1], "gridWidth": {"condition": {"test": "datum.value % 0.25 === 0", "value": 0.7}, "value": 0.35}}},
                "text": {"field": "Distribution"}
              }
            },
            {
              "data": {"name": "note"},
              "mark": {"type": "arc", "filled": false, "color": "#000000", "strokeWidth": 0.9, "radius": 14, "radius2": 14, "theta": 3.1416, "theta2": 4.7124},
              "encoding": {
                "x": {"datum": 2.013, "type": "quantitative", "scale": {"domain": [-0.1, 2.1], "nice": false},
                  "axis": {"title": null, "values": [0, 0.25, 0.5, 0.75, 1, 1.25, 1.5, 1.75, 2], "format": ".1f", "labelExpr": "datum.value % 0.5 === 0 ? datum.label : ''", "tickColor": {"condition": {"test": "datum.value % 0.5 === 0", "value": "#333333"}, "value": "transparent"}, "gridWidth": {"condition": {"test": "datum.value % 0.5 === 0", "value": 0.7}, "value": 0.35}}},
                "y": {"datum": -0.012, "type": "quantitative", "scale": {"domain": [-0.05, 1.62], "nice": false, "zero": false},
                  "axis": {"title": null, "labels": false, "ticks": false, "values": [0, 0.125, 0.25, 0.375, 0.5, 0.625, 0.75, 0.875, 1], "gridWidth": {"condition": {"test": "datum.value % 0.25 === 0", "value": 0.7}, "value": 0.35}}}
              }
            },
            {
              "data": {"name": "note"},
              "mark": {"type": "text", "align": "left", "baseline": "middle", "font": "Open Sans", "fontSize": 8.8, "color": "#000000"},
              "encoding": {
                "x": {"datum": 2.035, "type": "quantitative", "scale": {"domain": [-0.1, 2.1], "nice": false},
                  "axis": {"title": null, "values": [0, 0.25, 0.5, 0.75, 1, 1.25, 1.5, 1.75, 2], "format": ".1f", "labelExpr": "datum.value % 0.5 === 0 ? datum.label : ''", "tickColor": {"condition": {"test": "datum.value % 0.5 === 0", "value": "#333333"}, "value": "transparent"}, "gridWidth": {"condition": {"test": "datum.value % 0.5 === 0", "value": 0.7}, "value": 0.35}}},
                "y": {"datum": -0.543, "type": "quantitative", "scale": {"domain": [-0.05, 1.62], "nice": false, "zero": false},
                  "axis": {"title": null, "labels": false, "ticks": false, "values": [0, 0.125, 0.25, 0.375, 0.5, 0.625, 0.75, 0.875, 1], "gridWidth": {"condition": {"test": "datum.value % 0.25 === 0", "value": 0.7}, "value": 0.35}}},
                "text": {"field": "Note"}
              }
            }
          ]
        }
      ]
    }
  ]
}
